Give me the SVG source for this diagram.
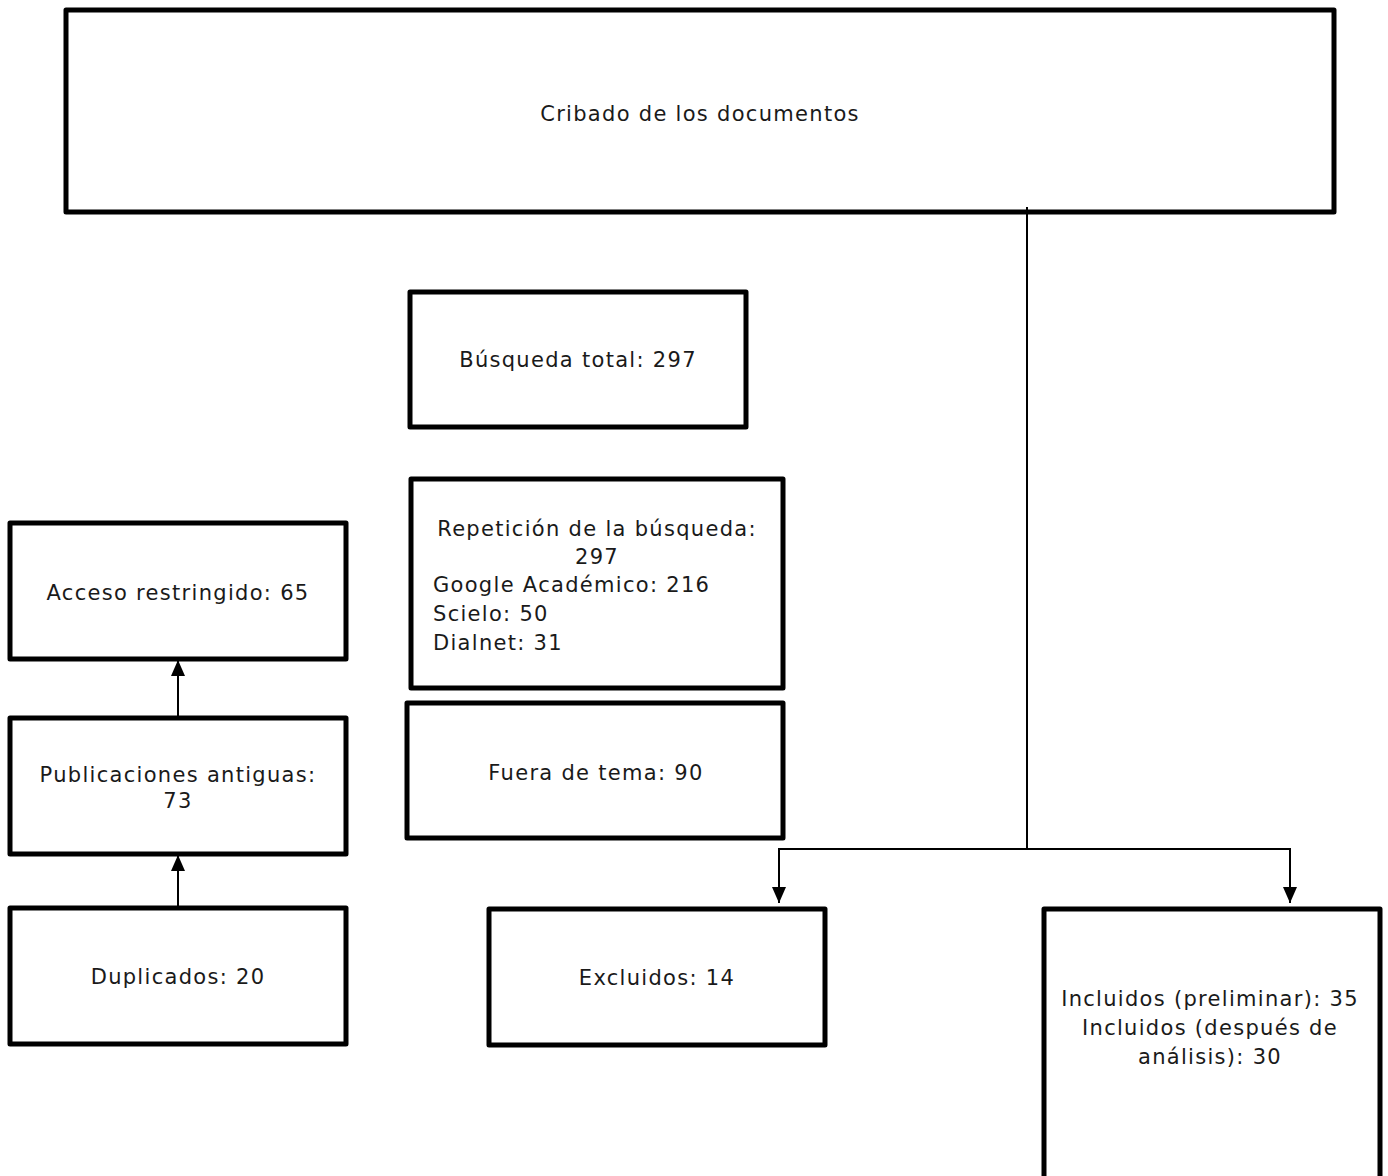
<svg xmlns="http://www.w3.org/2000/svg" width="1388" height="1176" viewBox="0 0 1388 1176">
<style>
.box{fill:#fff;stroke:#000;stroke-width:5;stroke-linejoin:round}
.t{font-family:"DejaVu Sans","Liberation Sans",sans-serif;font-size:21px;letter-spacing:1.3px;fill:#1a1a1a}
.c{text-anchor:middle}
.ln{fill:none;stroke:#000;stroke-width:2}
</style>
<defs>
<marker id="ah" markerWidth="16" markerHeight="16" viewBox="0 0 16 16" refX="16" refY="8" orient="auto" markerUnits="userSpaceOnUse">
<path d="M0,1 L16,8 L0,15 Z" fill="#000"/>
</marker>
</defs>
<rect width="1388" height="1176" fill="#fff"/>
<g id="n-cribado"><rect class="box" x="66" y="10" width="1268" height="202"/><text class="t c" x="700" y="121">Cribado de los documentos</text></g>
<g id="n-busqueda"><rect class="box" x="410" y="292" width="336" height="135"/><text class="t c" x="578" y="367">Búsqueda total: 297</text></g>
<g id="n-repeticion"><rect class="box" x="411" y="479" width="372" height="209"/>
<text class="t c" x="597" y="536">Repetición de la búsqueda:</text>
<text class="t c" x="597" y="564">297</text>
<text class="t" x="433" y="592">Google Académico: 216</text>
<text class="t" x="433" y="621">Scielo: 50</text>
<text class="t" x="433" y="650">Dialnet: 31</text></g>
<g id="n-acceso"><rect class="box" x="10" y="523" width="336" height="136"/><text class="t c" x="178" y="600">Acceso restringido: 65</text></g>
<g id="n-antiguas"><rect class="box" x="10" y="718" width="336" height="136"/><text class="t c" x="178" y="782">Publicaciones antiguas:</text><text class="t c" x="178" y="808">73</text></g>
<g id="n-fuera"><rect class="box" x="407" y="703" width="376" height="135"/><text class="t c" x="596" y="780">Fuera de tema: 90</text></g>
<g id="n-duplicados"><rect class="box" x="10" y="908" width="336" height="136"/><text class="t c" x="178" y="984">Duplicados: 20</text></g>
<g id="n-excluidos"><rect class="box" x="489" y="909" width="336" height="136"/><text class="t c" x="657" y="985">Excluidos: 14</text></g>
<g id="n-incluidos"><rect class="box" x="1044" y="909" width="336" height="280"/>
<text class="t c" x="1210" y="1006">Incluidos (preliminar): 35</text>
<text class="t c" x="1210" y="1035">Incluidos (después de</text>
<text class="t c" x="1210" y="1064">análisis): 30</text></g>
<g id="connectors">
<path class="ln" d="M1027,207 V849"/>
<path class="ln" d="M1027,849 H779 V903" marker-end="url(#ah)"/>
<path class="ln" d="M1027,849 H1290 V903" marker-end="url(#ah)"/>
<path class="ln" d="M178,716 V660" marker-end="url(#ah)"/>
<path class="ln" d="M178,906 V855" marker-end="url(#ah)"/>
</g>
</svg>
